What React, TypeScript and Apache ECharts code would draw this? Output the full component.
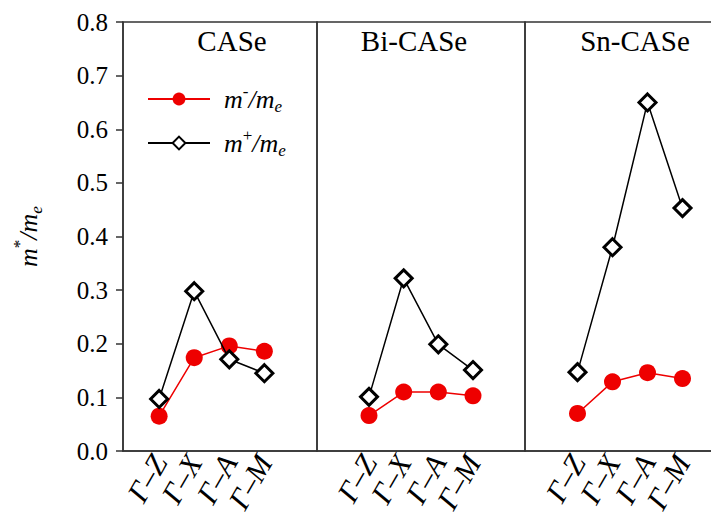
import React, { useEffect, useRef } from "react";
import * as echarts from "echarts";

const categories = ["Γ–Z", "Γ–X", "Γ–A", "Γ–M"];
const panelNames = ["CASe", "Bi-CASe", "Sn-CASe"];
const caseMinus = [0.065, 0.174, 0.196, 0.186];
const casePlus = [0.097, 0.298, 0.171, 0.145];
const biMinus = [0.066, 0.11, 0.11, 0.103];
const biPlus = [0.101, 0.322, 0.199, 0.151];
const snMinus = [0.07, 0.129, 0.146, 0.135];
const snPlus = [0.147, 0.38, 0.65, 0.453];
const yMin = 0;
const yMax = 0.8;
const yStep = 0.1;

const minusData = [caseMinus, biMinus, snMinus];
const plusData = [casePlus, biPlus, snPlus];

const SERIF = "Liberation Serif";
const RED = "#ee0000";
const FRAME = "#333";

export default function App() {
  const ref = useRef<HTMLDivElement>(null);
  useEffect(() => {
    document.body.style.margin = "0";
    if (!ref.current) return;
    const chart = echarts.init(ref.current, undefined, { renderer: "svg" });

    const gridDefs = [
      { left: 123, width: 194, xmin: -1.03, xmax: 4.5 },
      { left: 317, width: 208, xmin: -1.5, xmax: 4.5 },
      { left: 525, width: 210, xmin: -1.5, xmax: 4.5 },
    ];

    const grids = gridDefs.map((g) => ({
      left: g.left,
      width: g.width,
      top: 22,
      height: 429,
      show: true,
      borderColor: FRAME,
      borderWidth: 1.5,
      backgroundColor: "transparent",
      containLabel: false,
      outerBoundsMode: "none",
    }));

    const xAxes = gridDefs.map((g, i) => ({
      type: "value",
      gridIndex: i,
      min: g.xmin,
      max: g.xmax,
      splitLine: { show: false },
      axisLine: { show: true, onZero: false, lineStyle: { color: FRAME, width: 1.5 } },
      axisTick: { show: false },
      axisLabel: {
        show: true,
        customValues: [0, 1, 2, 3],
        showMinLabel: true,
        showMaxLabel: true,
        hideOverlap: false,
        formatter: (v: number) => categories[Math.round(v)] ?? "",
        rotate: 60,
        margin: 6,
        color: "#000",
        fontFamily: SERIF,
        fontStyle: "italic",
        fontSize: 30,
      },
    }));

    const yAxes = gridDefs.map((g, i) => ({
      type: "value",
      gridIndex: i,
      min: yMin,
      max: yMax,
      interval: yStep,
      splitLine: { show: false },
      axisLine: { show: i === 0, onZero: false, lineStyle: { color: FRAME, width: 1.5 } },
      axisTick: { show: i === 0, length: 7, lineStyle: { color: FRAME, width: 1.5 } },
      axisLabel: {
        show: i === 0,
        margin: 15,
        color: "#000",
        fontFamily: SERIF,
        fontSize: 25,
        formatter: (v: number) => v.toFixed(1),
      },
      name: i === 0 ? "{i|m}{sup|*}{i|/m}{sub|e}" : "",
      nameLocation: "middle",
      nameRotate: 90,
      nameGap: 78,
      nameTextStyle: {
        fontFamily: SERIF,
        rich: {
          i: { fontFamily: SERIF, fontStyle: "italic", fontSize: 26, color: "#000", lineHeight: 34 },
          sup: { fontFamily: SERIF, fontSize: 17, color: "#000", verticalAlign: "top", lineHeight: 34 },
          sub: { fontFamily: SERIF, fontStyle: "italic", fontSize: 17, color: "#000", verticalAlign: "bottom", lineHeight: 34 },
        },
      },
    }));

    const series: any[] = [];
    for (let p = 0; p < 3; p++) {
      series.push({
        type: "line",
        name: "minus",
        xAxisIndex: p,
        yAxisIndex: p,
        data: minusData[p].map((v, i) => [i, v]),
        symbol: "circle",
        symbolSize: 17,
        lineStyle: { color: RED, width: 1.5 },
        itemStyle: { color: RED, borderWidth: 0 },
        z: 2,
      });
      series.push({
        type: "line",
        name: "plus",
        xAxisIndex: p,
        yAxisIndex: p,
        data: plusData[p].map((v, i) => [i, v]),
        symbol: "diamond",
        symbolSize: 17,
        lineStyle: { color: "#000", width: 1.5 },
        itemStyle: { color: "#fff", borderColor: "#000", borderWidth: 3 },
        z: 3,
      });
    }

    const legendRich = {
      i: { fontFamily: SERIF, fontStyle: "italic", fontSize: 26, color: "#000", lineHeight: 32 },
      sup: { fontFamily: SERIF, fontSize: 17, color: "#000", verticalAlign: "top", lineHeight: 32 },
      sub: { fontFamily: SERIF, fontStyle: "italic", fontSize: 17, color: "#000", verticalAlign: "bottom", lineHeight: 32 },
    };

    chart.setOption({
      animation: false,
      backgroundColor: "#fff",
      textStyle: { fontFamily: SERIF },
      grid: grids,
      xAxis: xAxes,
      yAxis: yAxes,
      title: panelNames.map((t, i) => ({
        text: t,
        left: [227, 409, 630][i],
        top: 21,
        textAlign: "center",
        textStyle: { fontFamily: SERIF, fontSize: 29, fontWeight: "normal", color: "#000" },
      })),
      legend: {
        data: ["minus", "plus"],
        orient: "vertical",
        left: 147,
        top: 83,
        padding: 0,
        itemWidth: 62,
        itemHeight: 16,
        itemGap: 12,
        selectedMode: false,
        formatter: (name: string) =>
          name === "minus" ? "{i|m}{sup|-}{i|/m}{sub|e}" : "{i|m}{sup|+}{i|/m}{sub|e}",
        textStyle: { fontFamily: SERIF, rich: legendRich, padding: [0, 0, 0, 9] },
      },
      series,
    });
    return () => chart.dispose();
  }, []);
  return (
    <>
      <style>{`#root svg text, #root svg tspan { font-family: "Liberation Serif", serif !important; }`}</style>
      <div ref={ref} style={{ width: 711, height: 515 }} />
    </>
  );
}
